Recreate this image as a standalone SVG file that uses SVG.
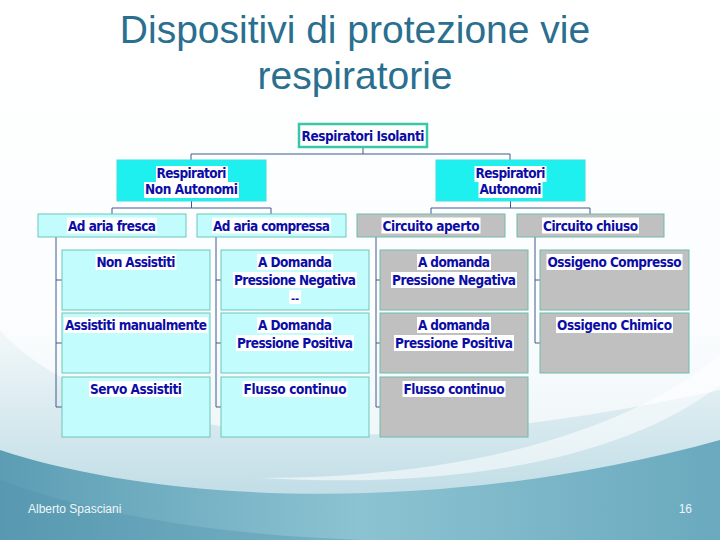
<svg xmlns="http://www.w3.org/2000/svg" width="720" height="540" viewBox="0 0 720 540">
<defs>
<linearGradient id="bg1" x1="0" y1="0" x2="0" y2="1">
<stop offset="0" stop-color="#ffffff"/>
<stop offset="0.6" stop-color="#fbfdfe"/>
<stop offset="1" stop-color="#e4f0f4"/>
</linearGradient>
<linearGradient id="sw1" x1="0" y1="0" x2="0" y2="1">
<stop offset="0" stop-color="#f2f8fa"/>
<stop offset="1" stop-color="#b4d6e1"/>
</linearGradient>
<linearGradient id="sw2" x1="0" y1="0" x2="1" y2="0">
<stop offset="0" stop-color="#5c9db4"/>
<stop offset="0.5" stop-color="#8cc3d2"/>
<stop offset="1" stop-color="#6aa9be"/>
</linearGradient>
<style>
.t{font-family:"DejaVu Sans Condensed","DejaVu Sans",sans-serif;font-weight:bold;font-size:13.5px;fill:#0c0ca6;text-anchor:middle}
.hl{fill:#ffffff}
.cy{fill:#c2fcfc;stroke:#6cc6bc;stroke-width:1}
.gr{fill:#c0c0c0;stroke:#6cbcac;stroke-width:1}
.l2{fill:#1ef0f0;stroke:#40dede;stroke-width:1}
.top{fill:#ffffff;stroke:#38c8a8;stroke-width:2.5}
.cn{stroke:#43598a;fill:none;stroke-width:1}
.title{font-family:"Liberation Sans",Arial,sans-serif;font-size:39px;fill:#2a6f8f;text-anchor:middle}
.ft{font-family:"Liberation Sans",Arial,sans-serif;font-size:12px;fill:#eef6f9}
</style>
</defs>
<g id="background">
<rect x="0" y="0" width="720" height="540" fill="url(#bg1)"/>
<path d="M0,330 C90,430 330,475 720,390 L720,540 L0,540 Z" fill="url(#sw1)"/>
<path d="M0,450 C150,500 430,520 720,440 L720,540 L0,540 Z" fill="url(#sw2)"/>
<path d="M260,478 C470,478 630,430 720,355 L720,385 C630,455 470,490 260,478 Z" fill="#ffffff" opacity="0.55"/>
<path d="M0,480 C120,525 300,545 460,540 L0,540 Z" fill="#4f93ab" opacity="0.35"/>
</g>
<g id="title">
<text class="title" x="355" y="43">Dispositivi di protezione vie</text>
<text class="title" x="355" y="89">respiratorie</text>
</g>
<g id="connectors">
<path class="cn" d="M363,147 V154 M191,154 H510 M191,154 V160 M510,154 V160"/>
<path class="cn" d="M191.5,201 V208 M112,208 H271 M112,208 V214 M271,208 V214"/>
<path class="cn" d="M510.5,201 V208 M431,208 H590 M431,208 V214 M590,208 V214"/>
<path class="cn" d="M56,237 V407 M56,280 H62 M56,343 H62 M56,407 H62"/>
<path class="cn" d="M216,237 V407 M216,280 H221 M216,343 H221 M216,407 H221"/>
<path class="cn" d="M376,237 V407 M376,280 H380 M376,343 H380 M376,407 H380"/>
<path class="cn" d="M535,237 V343 M535,280 H540 M535,343 H540"/>
</g>
<g id="n-isolanti">
<rect class="top" x="299" y="124" width="128" height="23"/>
<text class="t" x="363" y="140.5" textLength="123">Respiratori Isolanti</text>
</g>
<g id="n-non-autonomi">
<rect class="l2" x="117" y="160" width="149" height="41"/>
<rect class="hl" x="156" y="166" width="72" height="16"/>
<rect class="hl" x="144" y="182" width="95" height="16"/>
<text class="t" x="191.5" y="178" textLength="70">Respiratori</text>
<text class="t" x="191.5" y="194" textLength="93">Non Autonomi</text>
</g>
<g id="n-autonomi">
<rect class="l2" x="436" y="160" width="149" height="41"/>
<rect class="hl" x="474.5" y="166" width="72" height="16"/>
<rect class="hl" x="478.5" y="182" width="64" height="16"/>
<text class="t" x="510.5" y="178" textLength="70">Respiratori</text>
<text class="t" x="510.5" y="194" textLength="62">Autonomi</text>
</g>
<g id="n-fresca">
<rect class="cy" x="38" y="214" width="148" height="23"/>
<rect class="hl" x="67" y="217.5" width="90" height="16"/>
<text class="t" x="112" y="230.5" textLength="88">Ad aria fresca</text>
</g>
<g id="n-compressa">
<rect class="cy" x="197" y="214" width="149" height="23"/>
<rect class="hl" x="212" y="217.5" width="119" height="16"/>
<text class="t" x="271.5" y="230.5" textLength="117">Ad aria compressa</text>
</g>
<g id="n-aperto">
<rect class="gr" x="357" y="214" width="148" height="23"/>
<rect class="hl" x="381.5" y="217.5" width="99" height="16"/>
<text class="t" x="431" y="230.5" textLength="97">Circuito aperto</text>
</g>
<g id="n-chiuso">
<rect class="gr" x="517" y="214" width="147" height="23"/>
<rect class="hl" x="542" y="217.5" width="97" height="16"/>
<text class="t" x="590.5" y="230.5" textLength="95">Circuito chiuso</text>
</g>
<g id="n-non-assistiti">
<rect class="cy" x="62" y="250" width="148" height="60"/>
<rect class="hl" x="95.5" y="254" width="81" height="16"/>
<text class="t" x="136" y="266.5" textLength="79">Non Assistiti</text>
</g>
<g id="n-assistiti-man">
<rect class="cy" x="62" y="313" width="148" height="60"/>
<rect class="hl" x="64" y="317" width="144" height="16"/>
<text class="t" x="136" y="329.5" textLength="142">Assistiti manualmente</text>
</g>
<g id="n-servo">
<rect class="cy" x="62" y="377" width="148" height="60"/>
<rect class="hl" x="89" y="381" width="94" height="16"/>
<text class="t" x="136" y="393.5" textLength="92">Servo Assistiti</text>
</g>
<g id="n-nc-dom-neg">
<rect class="cy" x="221" y="250" width="148" height="60"/>
<rect class="hl" x="257" y="254" width="76" height="16"/>
<rect class="hl" x="233" y="272" width="124" height="16"/>
<rect class="hl" x="289" y="290" width="12" height="14"/>
<text class="t" x="295" y="266.5" textLength="74">A Domanda</text>
<text class="t" x="295" y="284.5" textLength="122">Pressione Negativa</text>
<text class="t" x="295" y="302" style="font-size:11px">--</text>
</g>
<g id="n-nc-dom-pos">
<rect class="cy" x="221" y="313" width="148" height="60"/>
<rect class="hl" x="257" y="317" width="76" height="16"/>
<rect class="hl" x="236" y="335" width="118" height="16"/>
<text class="t" x="295" y="329.5" textLength="74">A Domanda</text>
<text class="t" x="295" y="347.5" textLength="116">Pressione Positiva</text>
</g>
<g id="n-nc-flusso">
<rect class="cy" x="221" y="377" width="148" height="60"/>
<rect class="hl" x="242.5" y="381" width="105" height="16"/>
<text class="t" x="295" y="393.5" textLength="103">Flusso continuo</text>
</g>
<g id="n-ca-dom-neg">
<rect class="gr" x="380" y="250" width="148" height="60"/>
<rect class="hl" x="417" y="254" width="74" height="16"/>
<rect class="hl" x="391" y="272" width="126" height="16"/>
<text class="t" x="454" y="266.5" textLength="72">A domanda</text>
<text class="t" x="454" y="284.5" textLength="124">Pressione Negativa</text>
</g>
<g id="n-ca-dom-pos">
<rect class="gr" x="380" y="313" width="148" height="60"/>
<rect class="hl" x="417" y="317" width="74" height="16"/>
<rect class="hl" x="394" y="335" width="120" height="16"/>
<text class="t" x="454" y="329.5" textLength="72">A domanda</text>
<text class="t" x="454" y="347.5" textLength="118">Pressione Positiva</text>
</g>
<g id="n-ca-flusso">
<rect class="gr" x="380" y="377" width="148" height="60"/>
<rect class="hl" x="402.5" y="381" width="103" height="16"/>
<text class="t" x="454" y="393.5" textLength="101">Flusso continuo</text>
</g>
<g id="n-oss-compresso">
<rect class="gr" x="540" y="250" width="149" height="60"/>
<rect class="hl" x="546.5" y="254" width="136" height="16"/>
<text class="t" x="614.5" y="266.5" textLength="134">Ossigeno Compresso</text>
</g>
<g id="n-oss-chimico">
<rect class="gr" x="540" y="313" width="149" height="60"/>
<rect class="hl" x="556" y="317" width="117" height="16"/>
<text class="t" x="614.5" y="329.5" textLength="115">Ossigeno Chimico</text>
</g>
<g id="footer">
<text class="ft" x="28" y="513">Alberto Spasciani</text>
<text class="ft" x="692" y="513" text-anchor="end">16</text>
</g>
</svg>
